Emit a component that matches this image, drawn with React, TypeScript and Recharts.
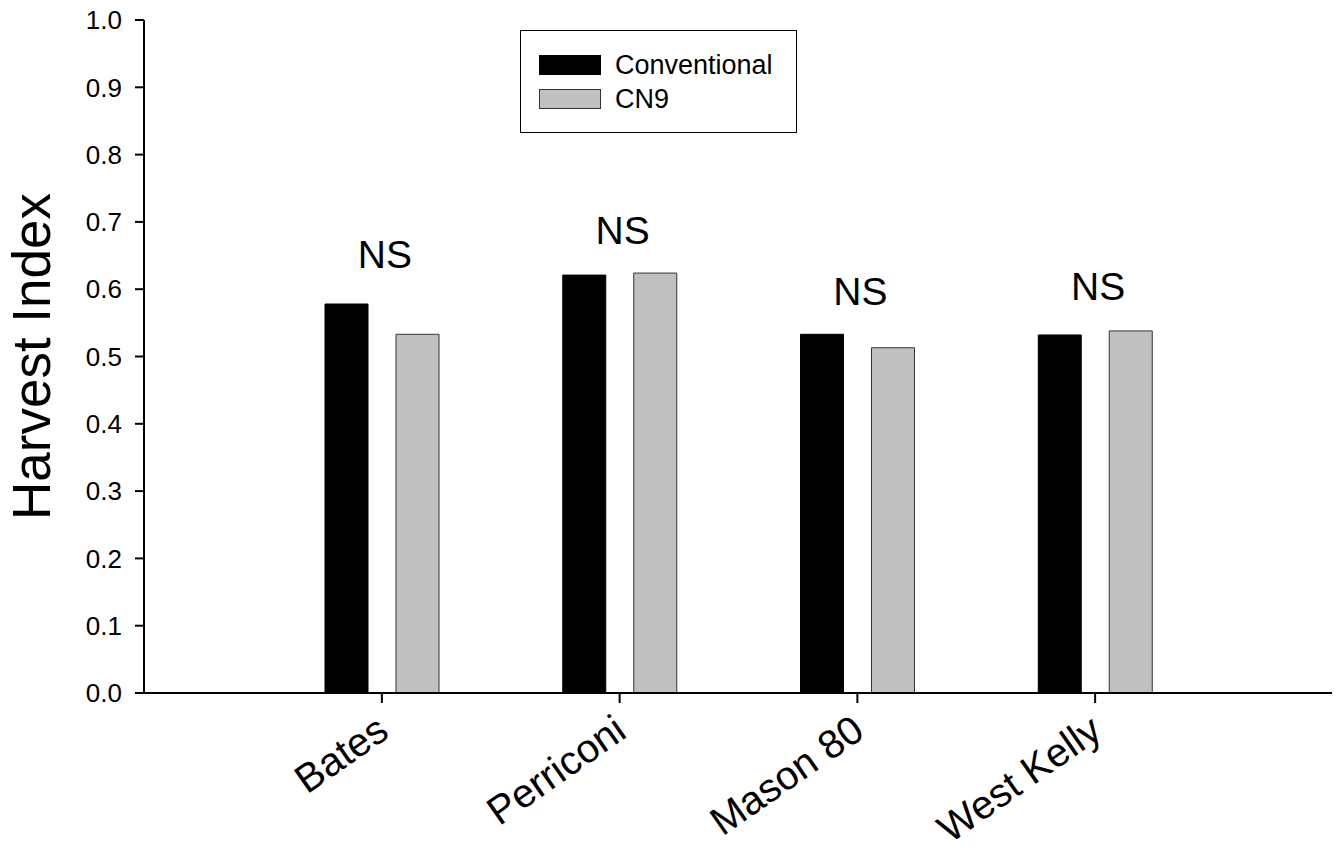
import { BarChart, Bar, XAxis, YAxis, ReferenceDot } from 'recharts';

const FONT = '"Liberation Sans", Arial, Helvetica, sans-serif';

// values
const categories = ['Bates', 'Perriconi', 'Mason 80', 'West Kelly'];
const conventional = [0.578, 0.621, 0.533, 0.532];
const cn9 = [0.533, 0.624, 0.513, 0.538];
// where the "NS" baseline sits, in axis units
const nsLabelY = [0.632, 0.667, 0.577, 0.584];
const yTicks = [0, 0.1, 0.2, 0.3, 0.4, 0.5, 0.6, 0.7, 0.8, 0.9, 1.0];

const seriesNames = ['Conventional', 'CN9'];
const seriesFill = ['#000000', '#c0c0c0'];
const seriesStroke = ['#000000', '#333333'];

const data = categories.map((name, i) => ({
  name,
  conventional: conventional[i],
  cn9: cn9[i],
}));

function XTick(props: any) {
  const { x, y, payload } = props;
  const tx = x + 9;
  const ty = y + 31;
  return (
    <text
      x={tx}
      y={ty}
      transform={`rotate(-35, ${tx}, ${ty})`}
      textAnchor="end"
      fontSize={40}
      fontFamily={FONT}
      fill="#000"
    >
      {payload.value}
    </text>
  );
}

function YLabel(props: any) {
  const vb = props.viewBox || { x: 0, y: 20, width: 144, height: 672 };
  const tx = vb.x + 50;
  const ty = vb.y + vb.height / 2;
  return (
    <text
      x={tx}
      y={ty}
      transform={`rotate(-90, ${tx}, ${ty})`}
      textAnchor="middle"
      fontSize={53}
      fontFamily={FONT}
      fill="#000"
    >
      Harvest Index
    </text>
  );
}

function NsMark(props: any) {
  const { cx, cy } = props;
  if (cx == null || cy == null) return null;
  return (
    <text x={cx + 3} y={cy} textAnchor="middle" fontSize={39} fontFamily={FONT} fill="#000">
      NS
    </text>
  );
}

export default function App() {
  return (
    <div style={{ position: 'absolute', left: 0, top: 0, width: 1336, height: 855, background: '#fff' }}>
      <BarChart
        width={1336}
        height={855}
        data={data}
        margin={{ top: 20, right: 4, bottom: 12, left: 0 }}
        barSize={43}
        barGap={28}
      >
        <XAxis
          dataKey="name"
          padding={{ left: 119, right: 118 }}
          height={150}
          tickSize={10}
          interval={0}
          tick={<XTick />}
          axisLine={{ stroke: '#000', strokeWidth: 2 }}
          tickLine={{ stroke: '#000', strokeWidth: 2 }}
        />
        <XAxis
          xAxisId="top"
          orientation="top"
          dataKey="name"
          height={0}
          tick={false}
          tickLine={false}
          axisLine={{ stroke: '#000', strokeWidth: 2 }}
        />
        <YAxis
          domain={[0, 1]}
          ticks={yTicks}
          width={144}
          tickSize={9}
          tickMargin={13}
          tickFormatter={(v: number) => v.toFixed(1)}
          tick={{ fontSize: 26, fill: '#000', fontFamily: FONT }}
          axisLine={{ stroke: '#000', strokeWidth: 2 }}
          tickLine={{ stroke: '#000', strokeWidth: 2 }}
          label={{ content: (p: any) => <YLabel {...p} /> }}
        />
        <YAxis
          yAxisId="right"
          orientation="right"
          domain={[0, 1]}
          width={0}
          tick={false}
          tickLine={false}
          axisLine={{ stroke: '#000', strokeWidth: 2 }}
        />
        <Bar dataKey="conventional" name={seriesNames[0]} fill={seriesFill[0]} stroke={seriesStroke[0]} strokeWidth={1} isAnimationActive={false} />
        <Bar dataKey="cn9" name={seriesNames[1]} fill={seriesFill[1]} stroke={seriesStroke[1]} strokeWidth={1} isAnimationActive={false} />
        {categories.map((c, i) => (
          <ReferenceDot key={c} x={c} y={nsLabelY[i]} r={0} shape={(p: any) => <NsMark {...p} />} />
        ))}
      </BarChart>

      <div
        style={{
          position: 'absolute',
          left: 520,
          top: 30,
          width: 275,
          height: 101,
          border: '1.5px solid #000',
          fontFamily: FONT,
          fontSize: 27,
          color: '#000',
        }}
      >
        {seriesNames.map((n, i) => (
          <div
            key={n}
            style={{ position: 'absolute', left: 18, top: 24 + i * 34, height: 20, display: 'flex', alignItems: 'center' }}
          >
            <div
              style={{
                width: 60,
                height: 18,
                background: seriesFill[i],
                border: `1px solid ${seriesStroke[i]}`,
                marginRight: 14,
              }}
            />
            <span style={{ lineHeight: '20px' }}>{n}</span>
          </div>
        ))}
      </div>
    </div>
  );
}
